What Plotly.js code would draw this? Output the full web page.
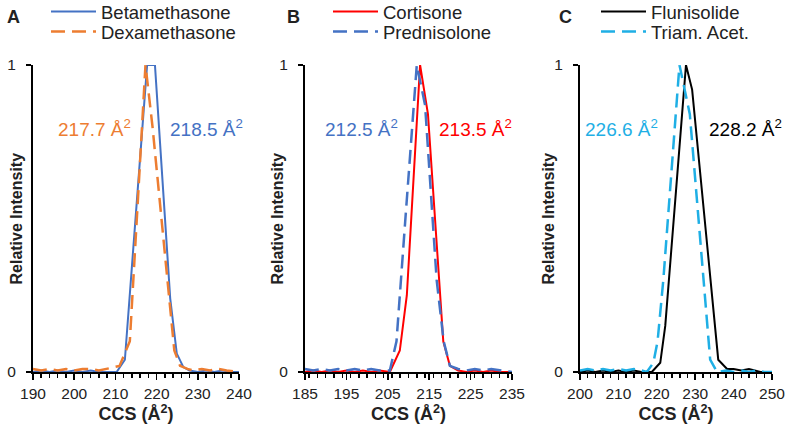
<!DOCTYPE html>
<html>
<head>
<meta charset="utf-8">
<script src="https://cdn.plot.ly/plotly-3.0.1.min.js"></script>
<style>
  html, body { margin: 0; padding: 0; background: #fff; }
  #chart { width: 790px; height: 425px; }
</style>
</head>
<body>
<div id="chart"></div>
<script>
// Panel A: Betamethasone vs Dexamethasone
var betaX = [190, 192, 194, 196, 198, 200, 202, 204, 206, 208, 210.3, 212.3, 214, 216, 217.7, 219.6, 221.5, 223.3, 224.9, 226.5, 228, 230, 232, 234, 236, 238, 240];
var betaY = [0, 0.005, 0, 0.005, 0, 0.005, 0, 0.005, 0, 0, 0, 0.04, 0.34, 0.7, 1, 1, 0.61, 0.24, 0.06, 0.016, 0.005, 0, 0.005, 0, 0.005, 0, 0];
var dexX = [190, 192, 194, 196, 198, 200, 202, 204, 206, 208, 209.5, 211, 213.5, 215.5, 217.3, 219, 221, 222.5, 224.3, 225.7, 227.5, 229, 231, 233, 235, 237, 240];
var dexY = [0.01, 0.005, 0.01, 0.005, 0.01, 0.005, 0.01, 0.01, 0.005, 0.01, 0.015, 0.02, 0.1, 0.57, 1, 0.8, 0.53, 0.32, 0.07, 0.02, 0.01, 0.005, 0.01, 0.005, 0.01, 0.005, 0];

// Panel B: Cortisone vs Prednisolone
var cortX = [185, 187, 189, 191, 193, 195, 197, 199, 201, 203, 205.5, 207.9, 209.6, 211.2, 212.8, 214.7, 216.8, 218.4, 220, 222, 224, 226, 228, 230, 232, 235];
var cortY = [0, 0.005, 0, 0.005, 0, 0.005, 0, 0.005, 0, 0.005, 0, 0.07, 0.25, 0.62, 1, 0.84, 0.42, 0.1, 0.02, 0.005, 0, 0.005, 0, 0.005, 0, 0];
var predX = [185, 187, 189, 191, 193, 195, 197, 199, 201, 203, 205.5, 207.1, 209.2, 212, 214, 216.8, 218.5, 220, 222, 224, 226, 228, 230, 232, 235];
var predY = [0.01, 0.005, 0.01, 0.005, 0.01, 0.005, 0.01, 0.005, 0.01, 0.005, 0.005, 0.1, 0.49, 1, 0.87, 0.3, 0.1, 0.02, 0.01, 0.005, 0.01, 0.005, 0.01, 0.005, 0];

// Panel C: Flunisolide vs Triamcinolone acetonide
var fluX = [200, 202, 204, 206, 208, 210, 212, 214, 216, 218.7, 220.9, 222.2, 225, 227.6, 229.2, 232.5, 236, 238.3, 240, 242, 244, 245.5, 247, 250];
var fluY = [0, 0.005, 0, 0.005, 0, 0.005, 0, 0.005, 0, 0, 0.03, 0.15, 0.59, 1, 0.92, 0.49, 0.04, 0.01, 0.01, 0.005, 0.01, 0.005, 0, 0];
var triX = [200, 202, 204, 206, 208, 210, 212, 214, 216, 217.4, 219.1, 220.2, 221.7, 224.3, 225.9, 228.6, 231.5, 233.9, 235.7, 238, 240, 242, 244, 246, 248, 250];
var triY = [0.005, 0.01, 0.005, 0.01, 0.005, 0.01, 0.005, 0.01, 0.005, 0, 0.03, 0.1, 0.3, 0.73, 1, 0.84, 0.4, 0.04, 0, 0.005, 0, 0.005, 0, 0.005, 0, 0];

// peak labels
var peakA = ['217.7 Å<sup>2</sup>', '218.5 Å<sup>2</sup>'];
var peakB = ['212.5 Å<sup>2</sup>', '213.5 Å<sup>2</sup>'];
var peakC = ['226.6 Å<sup>2</sup>', '228.2 Å<sup>2</sup>'];

var BLUE = '#4472C4', ORANGE = '#ED7D31', RED = '#FF0000', CYAN = '#1FAFE5';
var DASH = '14px,7px';
var FONT = 'Liberation Sans, Arial, sans-serif';

// plot area spans y = 65..372 px; helper for paper y from pixel row
function py(px) { return (372 - px) / 307; }

function line(x, y, name, color, dash, xa, ya, leg) {
    return {
        x: x, y: y, name: name, type: 'scatter', mode: 'lines',
        line: {color: color, width: dash ? 2.5 : 2, dash: dash || 'solid'},
        xaxis: xa, yaxis: ya, legend: leg, cliponaxis: false
    };
}

var data = [
    line(betaX, betaY, 'Betamethasone', BLUE, null, 'x', 'y', 'legend'),
    line(dexX, dexY, 'Dexamethasone', ORANGE, DASH, 'x', 'y', 'legend2'),
    line(cortX, cortY, 'Cortisone', RED, null, 'x2', 'y2', 'legend3'),
    line(predX, predY, 'Prednisolone', BLUE, DASH, 'x2', 'y2', 'legend4'),
    line(fluX, fluY, 'Flunisolide', '#000000', null, 'x3', 'y3', 'legend5'),
    line(triX, triY, 'Triam. Acet.', CYAN, DASH, 'x3', 'y3', 'legend6')
];

function xax(dom, lo, hi, anchor) {
    return {
        domain: dom, range: [lo, hi], anchor: anchor,
        tick0: lo, dtick: 10, ticks: 'outside', ticklen: 6, tickwidth: 1.5, tickcolor: '#000',
        minor: {dtick: 2, ticks: 'outside', ticklen: 4, tickwidth: 1.5, tickcolor: '#000'},
        showline: true, linecolor: '#000', linewidth: 2, showgrid: false, zeroline: false,
        tickfont: {family: FONT, size: 15.5, color: '#222'},
        title: {text: '<b>CCS (Å<sup>2</sup>)</b>', font: {family: FONT, size: 18, color: '#222'}, standoff: 1}
    };
}
function yax(anchor) {
    return {
        domain: [0, 1], range: [0, 1], anchor: anchor,
        tickvals: [0, 1], ticks: 'outside', ticklen: 5, tickwidth: 1.5, tickcolor: '#000',
        ticklabelstandoff: 7,
        showline: true, linecolor: '#000', linewidth: 2, showgrid: false, zeroline: false,
        tickfont: {family: FONT, size: 15.5, color: '#222'}
    };
}
function leg(x, y) {
    return {
        x: x, y: y, xanchor: 'left', yanchor: 'middle', bgcolor: 'rgba(0,0,0,0)',
        font: {family: FONT, size: 18.5, color: '#222'}, itemwidth: 45
    };
}
function note(text, x, y, xref, yref, color, anchor, size, angle) {
    return {
        text: text, x: x, y: y, xref: xref, yref: yref, showarrow: false,
        xanchor: anchor, yanchor: 'middle', textangle: angle || 0,
        font: {family: FONT, size: size, color: color}
    };
}

var ytitle = '<b>Relative Intensity</b>';

var layout = {
    width: 790, height: 425,
    margin: {l: 0, r: 0, t: 65, b: 53, autoexpand: false},
    paper_bgcolor: '#fff', plot_bgcolor: '#fff',
    showlegend: true,
    xaxis: xax([33 / 790, 239 / 790], 190, 240, 'y'),
    yaxis: yax('x'),
    xaxis2: xax([305 / 790, 512 / 790], 185, 235, 'y2'),
    yaxis2: yax('x2'),
    xaxis3: xax([580 / 790, 772 / 790], 200, 250, 'y3'),
    yaxis3: yax('x3'),
    legend: leg(46 / 790, py(12)),
    legend2: leg(46 / 790, py(32)),
    legend3: leg(328 / 790, py(12)),
    legend4: leg(328 / 790, py(32)),
    legend5: leg(596 / 790, py(12)),
    legend6: leg(596 / 790, py(32)),
    annotations: [
        note('<b>A</b>', 13 / 790, py(17), 'paper', 'paper', '#222', 'center', 18),
        note('<b>B</b>', 293 / 790, py(17), 'paper', 'paper', '#222', 'center', 18),
        note('<b>C</b>', 565 / 790, py(17), 'paper', 'paper', '#222', 'center', 18),
        note(ytitle, 16 / 790, 0.5, 'paper', 'paper', '#222', 'center', 16, -90),
        note(ytitle, 277 / 790, 0.5, 'paper', 'paper', '#222', 'center', 16, -90),
        note(ytitle, 548 / 790, 0.5, 'paper', 'paper', '#222', 'center', 16, -90),
        note(peakA[0], 214.3, 0.795, 'x', 'y', ORANGE, 'right', 19),
        note(peakA[1], 222.8, 0.795, 'x', 'y', BLUE, 'left', 19),
        note(peakB[0], 207.9, 0.795, 'x2', 'y2', BLUE, 'right', 19),
        note(peakB[1], 216.9, 0.795, 'x2', 'y2', RED, 'left', 19),
        note(peakC[0], 220.9, 0.795, 'x3', 'y3', CYAN, 'right', 19),
        note(peakC[1], 233.2, 0.795, 'x3', 'y3', '#000000', 'left', 19)
    ]
};

Plotly.newPlot('chart', data, layout, {displayModeBar: false, staticPlot: true});
</script>
</body>
</html>
